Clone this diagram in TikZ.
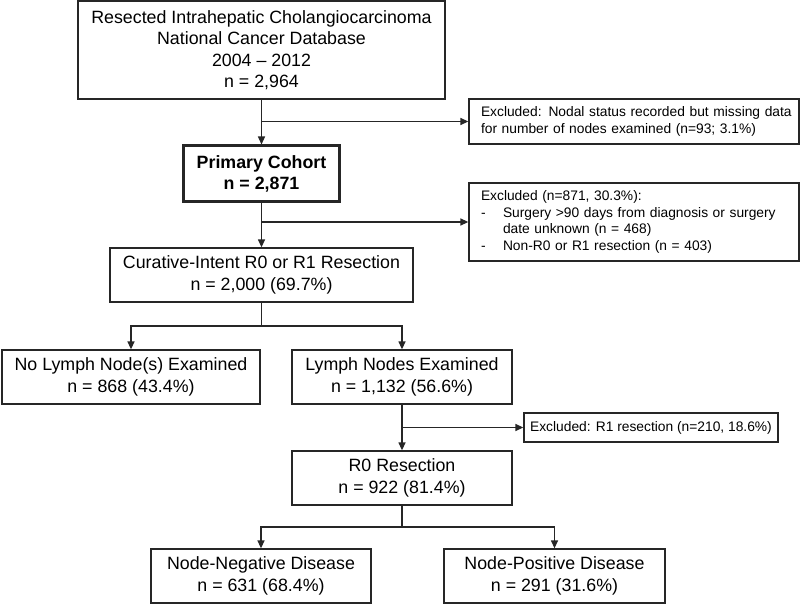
\documentclass[tikz,border=0pt]{standalone}
\usepackage{fontspec}
\setmainfont{Liberation Sans}
\usetikzlibrary{arrows.meta,calc}
\begin{document}
\begin{tikzpicture}[x=1pt,y=-1pt,
  box/.style={draw=black!85,line width=1.3pt,align=center,inner sep=0pt,
    font=\fontsize{17.8}{21.5}\selectfont},
  exbox/.style={draw=black!85,line width=1.3pt,align=left,inner ysep=0pt,inner xsep=12pt,
    font=\fontsize{13.8}{16.6}\selectfont},
  conn/.style={draw=black!85,line width=1.3pt,-{Triangle[length=8pt,width=7pt]}},
  link/.style={draw=black!85,line width=1.3pt}]
\useasboundingbox (0,0) rectangle (800,604);
\fill[white] (0,0) rectangle (800,604);

\node[box,minimum width=367pt,minimum height=98pt] (top) at (261.5,50)
  {Resected Intrahepatic Cholangiocarcinoma\\National Cancer Database\\2004 -- 2012\\n = 2,964};
\node[box,line width=3pt,minimum width=156pt,minimum height=56pt,font=\fontsize{17.8}{21.5}\selectfont\bfseries] (prim) at (261.5,174)
  {Primary Cohort\\n = 2,871};
\node[box,minimum width=303pt,minimum height=54pt] (cur) at (261.5,275)
  {Curative-Intent R0 or R1 Resection\\n = 2,000 (69.7\%)};
\node[box,minimum width=258pt,minimum height=54pt] (nolymph) at (131,377)
  {No Lymph Node(s) Examined\\n = 868 (43.4\%)};
\node[box,minimum width=220pt,minimum height=54pt] (lne) at (402,377)
  {Lymph Nodes Examined\\n = 1,132 (56.6\%)};
\node[box,minimum width=220pt,minimum height=54pt] (rzero) at (402,478)
  {R0 Resection\\n = 922 (81.4\%)};
\node[box,minimum width=220pt,minimum height=54pt] (nneg) at (261,576)
  {Node-Negative Disease\\n = 631 (68.4\%)};
\node[box,minimum width=221pt,minimum height=54pt] (npos) at (554.5,576)
  {Node-Positive Disease\\n = 291 (31.6\%)};

\node[exbox,text width=306pt,minimum height=45pt] (exA) at (634,121.5)
  {\mbox{Excluded: Nodal status recorded but missing data}\\\mbox{for number of nodes examined (n=93; 3.1\%)}};
\node[exbox,text width=306pt,minimum height=78pt] (exB) at (634,222)
  {\mbox{Excluded (n=871, 30.3\%):}\\
   \mbox{\makebox[22pt][l]{-}Surgery >90 days from diagnosis or surgery}\\
   \mbox{\hspace*{22pt}date unknown (n = 468)}\\
   \mbox{\makebox[22pt][l]{-}Non-R0 or R1 resection (n = 403)}};
\node[exbox,inner xsep=0pt,align=center,minimum width=254pt,minimum height=29pt] (exC) at (651,427.5)
  {Excluded: R1 resection (n=210, 18.6\%)};

% trunk connectors
\draw[conn] (top.south) -- (prim.north);
\draw[conn] (top.south |- exA.west) -- (exA.west);
\draw[conn] (prim.south) -- (cur.north);
\draw[conn] (prim.south |- exB.west) -- (exB.west);
\coordinate (splitA) at ($(cur.south)!0.5!(cur.south |- nolymph.north)$);
\draw[link] (cur.south) -- (splitA);
\draw[conn] (splitA) -| (nolymph.north);
\draw[conn] (splitA) -| (lne.north);
\draw[conn] (lne.south) -- (rzero.north);
\draw[conn] (lne.south |- exC.west) -- (exC.west);
\coordinate (splitB) at ($(rzero.south)!0.5!(rzero.south |- nneg.north)$);
\draw[link] (rzero.south) -- (splitB);
\draw[conn] (splitB) -| (nneg.north);
\draw[conn] (splitB) -| (npos.north);
\end{tikzpicture}
\end{document}
